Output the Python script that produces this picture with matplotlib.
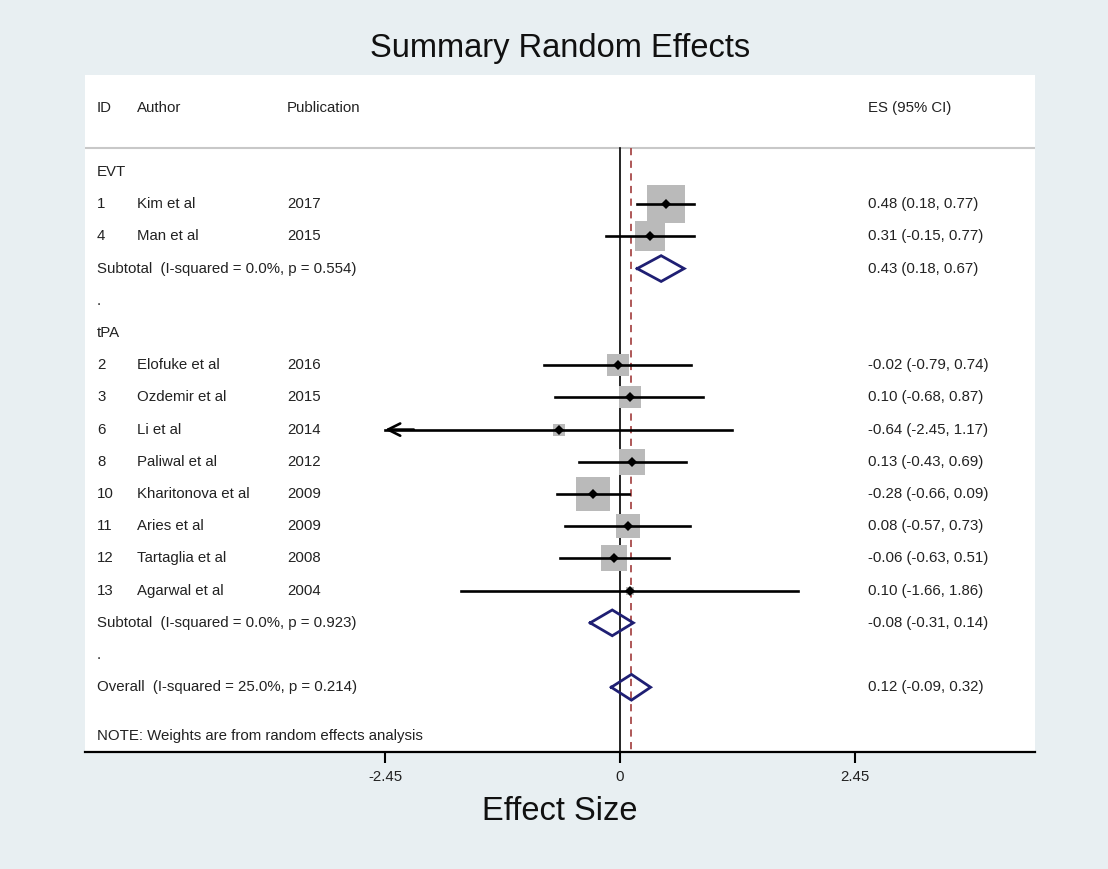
import matplotlib
matplotlib.use("Agg")
import matplotlib.pyplot as plt
import numpy as np

plt.rcParams['font.family'] = ['Liberation Sans', 'DejaVu Sans']

# study data
ids = ["1", "4", "2", "3", "6", "8", "10", "11", "12", "13"]
authors = ["Kim et al", "Man et al", "Elofuke et al", "Ozdemir et al", "Li et al",
           "Paliwal et al", "Kharitonova et al", "Aries et al", "Tartaglia et al",
           "Agarwal et al"]
years = ["2017", "2015", "2016", "2015", "2014", "2012", "2009", "2009", "2008", "2004"]
groups = ["EVT", "EVT", "tPA", "tPA", "tPA", "tPA", "tPA", "tPA", "tPA", "tPA"]
es = [0.48, 0.31, -0.02, 0.10, -0.64, 0.13, -0.28, 0.08, -0.06, 0.10]
lo = [0.18, -0.15, -0.79, -0.68, -2.45, -0.43, -0.66, -0.57, -0.63, -1.66]
hi = [0.77, 0.77, 0.74, 0.87, 1.17, 0.69, 0.09, 0.73, 0.51, 1.86]
weights = [22.4, 14.1, 7.1, 6.5, 1.8, 9.9, 18.0, 8.5, 10.7, 0.9]

# pooled estimates
group_names = ["EVT", "tPA"]
sub_es = [0.43, -0.08]
sub_lo = [0.18, -0.31]
sub_hi = [0.67, 0.14]
sub_i2 = ["0.0%", "0.0%"]
sub_p = ["0.554", "0.923"]
overall = (0.12, -0.09, 0.32)
overall_i2 = "25.0%"
overall_p = "0.214"

ticks = [-2.45, 0, 2.45]
tick_labels = ["-2.45", "0", "2.45"]

bg = "#e8eff2"
navy = "#1f1f73"
txt = "#222222"
fs = 10.8

fig = plt.figure(figsize=(11.08, 8.69), dpi=100, facecolor=bg)
ax = fig.add_axes([85 / 1108, 1 - 752 / 869, 950 / 1108, 677 / 869])
ax.set_facecolor("white")
ax.set_xlim(-5.58, 4.33)
ax.set_ylim(18.01, -3.01)
for s in ["top", "left", "right"]:
    ax.spines[s].set_visible(False)
ax.spines["bottom"].set_linewidth(1.6)
ax.set_yticks([])
ax.set_xticks(ticks)
ax.set_xticklabels(tick_labels, fontsize=fs, color=txt)
ax.tick_params(axis="x", direction="out", length=8, width=1.5, pad=5)

tr = ax.get_yaxis_transform()  # x in axes fraction, y in data
col_id, col_auth, col_pub, col_es = 0.0126, 0.0547, 0.2126, 0.8242


def put(x, y, s):
    ax.text(x, y, s, transform=tr, fontsize=fs, color=txt, va="center", ha="left")


# header
put(col_id, -2, "ID")
put(col_auth, -2, "Author")
put(col_pub, -2, "Publication")
put(col_es, -2, "ES (95% CI)")
ax.axhline(-0.75, color="#c8c8c8", lw=1.5)

ymin_line = -0.75
ax.plot([0, 0], [ymin_line, 18.01], color="black", lw=1.2, zorder=2)
ax.plot([overall[0], overall[0]], [ymin_line, 18.01], color="#a84a4a", lw=1.3,
        ls=(0, (4, 3)), zorder=2)


def diamond(row, e, l, h):
    xs = [l, e, h, e, l]
    ys = [row, row - 0.4, row, row + 0.4, row]
    ax.plot(xs, ys, color=navy, lw=2, solid_joinstyle="miter", zorder=4)


row = 0
for g, gname in enumerate(group_names):
    put(col_id, row, gname)
    row += 1
    for i in range(len(es)):
        if groups[i] != gname:
            continue
        put(col_id, row, ids[i])
        put(col_auth, row, authors[i])
        put(col_pub, row, years[i])
        put(col_es, row, "%.2f (%.2f, %.2f)" % (es[i], lo[i], hi[i]))
        side = 8.24 * np.sqrt(weights[i]) * 0.72
        ax.plot(es[i], row, marker="s", ms=side, mew=0, color="#bababa", zorder=3)
        left = max(lo[i], -2.45)
        right = min(hi[i], 2.45)
        ax.plot([left, right], [row, row], color="black", lw=1.9, zorder=4)
        if lo[i] <= -2.45:
            ax.annotate("", xy=(left, row), xytext=(left + 0.3, row),
                        arrowprops=dict(arrowstyle="->", lw=1.9, color="black",
                                        mutation_scale=22, shrinkA=0, shrinkB=0),
                        zorder=4)
        ax.plot(es[i], row, marker="D", ms=5.5, mew=0, color="black", zorder=5)
        row += 1
    put(col_id, row, "Subtotal  (I-squared = %s, p = %s)" % (sub_i2[g], sub_p[g]))
    put(col_es, row, "%.2f (%.2f, %.2f)" % (sub_es[g], sub_lo[g], sub_hi[g]))
    diamond(row, sub_es[g], sub_lo[g], sub_hi[g])
    row += 1
    put(col_id, row, ".")
    row += 1

put(col_id, row, "Overall  (I-squared = %s, p = %s)" % (overall_i2, overall_p))
put(col_es, row, "%.2f (%.2f, %.2f)" % overall)
diamond(row, *overall)
put(col_id, row + 1.5, "NOTE: Weights are from random effects analysis")

fig.text(560 / 1108, 1 - 48 / 869, "Summary Random Effects", ha="center", va="center",
         fontsize=23.5, color="#111111")
fig.text(560 / 1108, 1 - 811 / 869, "Effect Size", ha="center", va="center",
         fontsize=23.5, color="#111111")

fig.savefig("out.png", dpi=100, facecolor=bg)
